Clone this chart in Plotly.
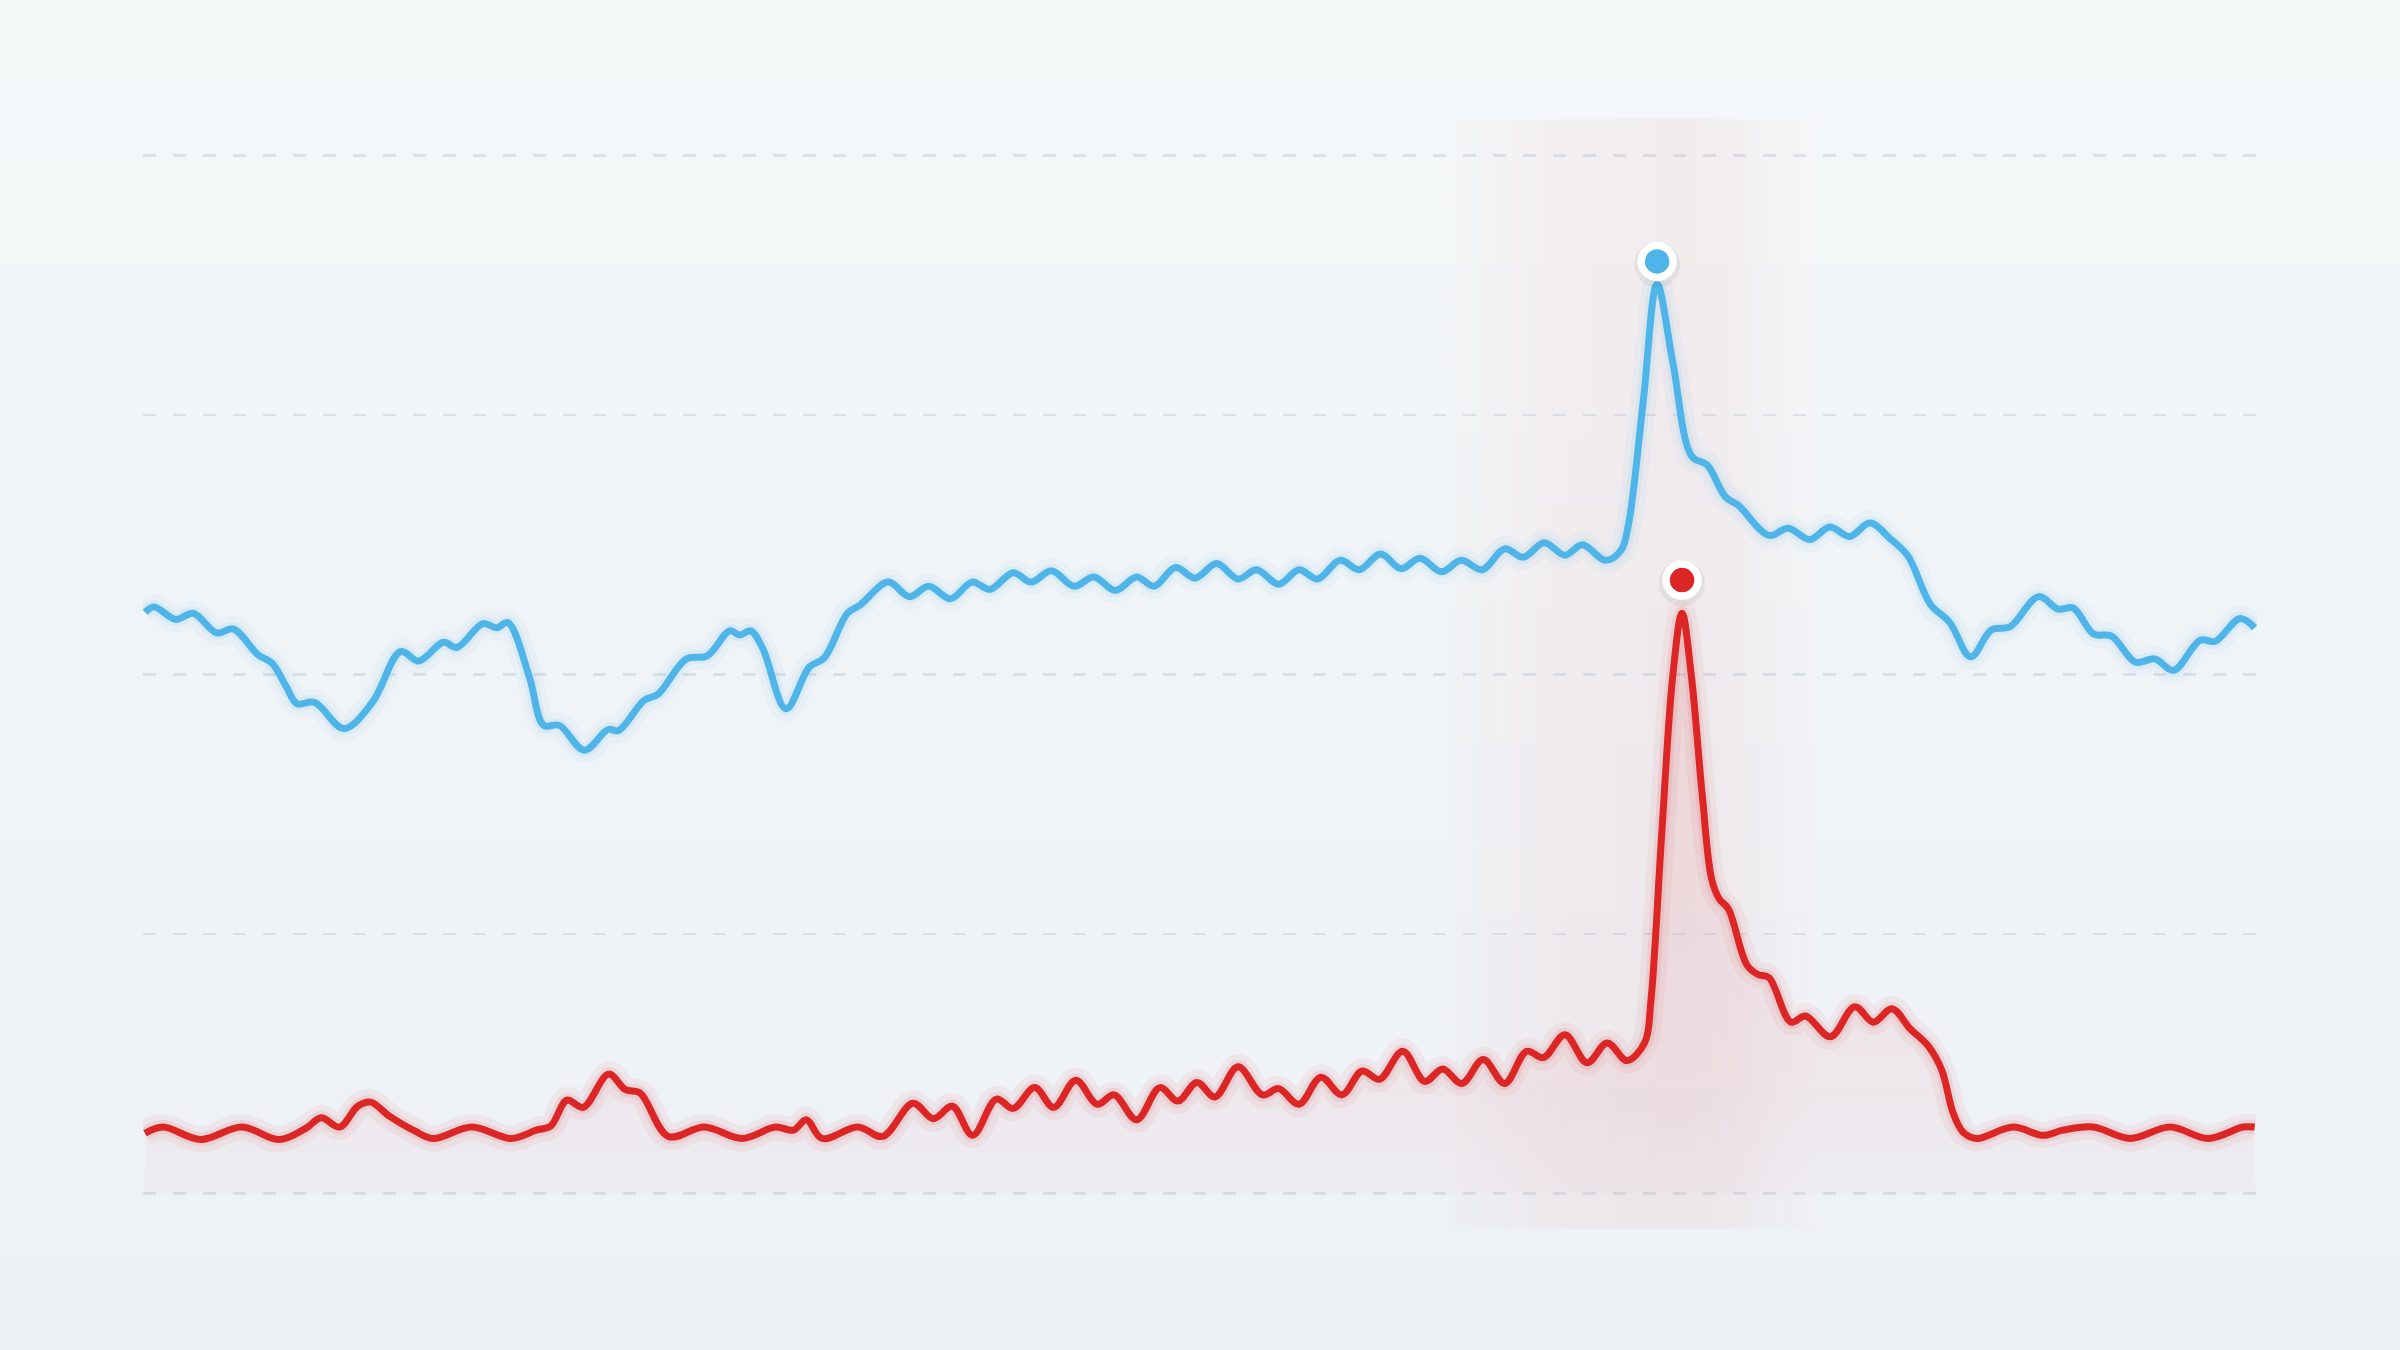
import math
import plotly.graph_objects as go

# ---------------- data ----------------
blue_day = [0, 1.6, 5.3, 8.3, 12.4, 15.2, 19.5, 21.9, 24.4, 26.2, 29.3, 34.3, 39.2, 44.1, 47.2,
            51.5, 53.8, 58.3, 60.7, 62.6, 66.3, 68.8, 71.5, 75.8, 79.9, 81.7, 86.1, 88.5, 93.4,
            97.0, 100.9, 102.6, 104.5, 106.6, 110.6, 114.6, 117.2, 121.2, 123.4, 128.2, 131.9,
            135.2, 139.0, 142.7, 145.8, 149.8, 152.9, 156.4, 160.3, 163.7, 167.4, 171.1, 174.1,
            177.8, 181.2, 184.9, 188.6, 191.8, 195.6, 199.1, 202.3, 206.2, 209.5, 213.2, 216.7,
            220.0, 223.7, 227.1, 230.7, 234.6, 237.8, 241.4, 245.0, 248.0, 252.0, 254.7, 256.0,
            258.5, 260.9, 263.6, 266.9, 269.5, 272.7, 274.9, 280.2, 283.5, 287.2, 290.7, 294.1,
            297.6, 301.1, 304.2, 308.0, 311.4, 315.0, 318.6, 321.8, 326.7, 330.1, 332.7, 336.2,
            339.3, 343.4, 346.8, 350.0, 354.6, 357.2, 361.5, 364]
blue_val = [56.0, 56.5, 55.3, 55.9, 54.0, 54.4, 51.9, 51.1, 48.8, 47.2, 47.3, 44.8, 47.3, 52.2, 51.3,
            53.1, 52.6, 54.9, 54.5, 55.0, 49.8, 45.1, 45.1, 42.7, 44.7, 44.6, 47.5, 48.1, 51.5,
            51.8, 54.2, 53.8, 54.2, 52.5, 46.7, 50.7, 51.6, 55.9, 56.7, 58.9, 57.5,
            58.5, 57.3, 58.9, 58.2, 59.8, 58.9, 60.0, 58.5, 59.4, 58.1, 59.4, 58.5,
            60.3, 59.3, 60.7, 59.2, 60.1, 58.7, 60.1, 59.2, 61.0, 60.1, 61.6, 60.2,
            61.2, 59.9, 61.0, 60.1, 62.1, 61.3, 62.7, 61.5, 62.5, 61.0, 62.0, 64.6,
            76.3, 87.6, 80.1, 71.0, 70.2, 67.1, 66.3, 63.4, 64.1, 63.0, 64.2, 63.3,
            64.6, 63.1, 61.4, 56.8, 55.0, 51.7, 54.3, 54.6, 57.5, 56.3, 56.4, 53.9,
            53.7, 51.2, 51.5, 50.4, 53.3, 53.2, 55.4, 54.5]

red_day = [0, 3.1, 9.6, 16.7, 23.2, 27.8, 30.4, 33.6, 36.7, 38.9, 42.3, 46.6, 49.7, 56.4, 63.2,
           67.5, 70.0, 72.8, 75.6, 80.0, 82.9, 85.4, 90.3, 96.5, 103.0, 108.8, 111.9, 114.1,
           116.8, 123.0, 127.3, 132.5, 136.0, 139.3, 142.8, 146.9, 149.8, 153.5, 156.8, 160.6,
           164.3, 167.2, 171.1, 175.1, 178.2, 181.5, 184.6, 188.6, 192.8, 195.6, 199.1, 202.9,
           206.5, 210.0, 213.0, 217.0, 220.8, 223.9, 227.2, 230.9, 234.6, 238.4, 241.3, 245.0,
           248.8, 252.3, 255.7, 258.8, 259.8, 261.7, 263.6, 265.2, 266.8, 268.7, 270.3, 271.6,
           273.2, 276.4, 278.3, 280.2, 284.0, 286.5, 290.8, 295.0, 298.2, 301.4, 304.5, 307.7,
           310.0, 312.0, 313.7, 316.0, 322.3, 327.5, 330.9, 336.1, 342.5, 349.4, 356.0, 362.0, 364]
red_val = [5.8, 6.4, 5.2, 6.4, 5.2, 6.3, 7.3, 6.4, 8.4, 8.8, 7.4, 6.0, 5.3, 6.4, 5.3,
           6.1, 6.5, 9.0, 8.3, 11.5, 10.0, 9.7, 5.5, 6.4, 5.3, 6.4, 6.1, 7.1,
           5.3, 6.4, 5.5, 8.7, 7.2, 8.4, 5.6, 9.1, 8.2, 10.2, 8.3, 10.9,
           8.6, 9.5, 7.1, 10.2, 8.9, 10.7, 9.3, 12.2, 9.5, 10.1, 8.6, 11.2,
           9.5, 11.8, 11.0, 13.7, 10.8, 12.0, 10.6, 12.9, 10.6, 13.7, 13.1, 15.3,
           12.6, 14.5, 12.8, 14.6, 18.4, 34.7, 49.9, 55.9, 49.9, 38.3, 30.3, 28.4,
           27.4, 22.0, 21.1, 20.8, 16.5, 17.1, 15.1, 18.0, 16.5, 17.8, 15.9, 14.2,
           11.9, 7.7, 5.9, 5.3, 6.4, 5.6, 6.1, 6.4, 5.3, 6.4, 5.3, 6.4, 6.4]

grid_vals = [0, 25, 50, 75, 100]
highlight_days = [226, 292]

# ---------------- style ----------------
BLUE = "#4FB4E8"
RED = "#DC2626"
MARKER_LIFT = {"blue": 2.2, "red": 3.2}


def rgba(hex_color, a):
    h = hex_color.lstrip("#")
    r, g, b = int(h[0:2], 16), int(h[2:4], 16), int(h[4:6], 16)
    return f"rgba({r},{g},{b},{a})"


fig = go.Figure()

# glow under lines
for days, vals, col in [(blue_day, blue_val, BLUE), (red_day, red_val, RED)]:
    fig.add_trace(go.Scatter(x=days, y=vals, mode="lines", hoverinfo="skip", showlegend=False,
                             line=dict(color=rgba(col, 0.05), width=26, shape="spline", smoothing=1.0)))
    fig.add_trace(go.Scatter(x=days, y=vals, mode="lines", hoverinfo="skip", showlegend=False,
                             line=dict(color=rgba(col, 0.09), width=14, shape="spline", smoothing=1.0)))

# red area fill
fig.add_trace(go.Scatter(x=red_day, y=red_val, mode="lines", hoverinfo="skip", showlegend=False,
                         line=dict(color="rgba(0,0,0,0)", width=0, shape="spline", smoothing=1.0),
                         fill="tozeroy",
                         fillgradient=dict(type="vertical", start=0, stop=40,
                                           colorscale=[[0, rgba(RED, 0.02)], [0.3, rgba(RED, 0.055)],
                                                       [1, rgba(RED, 0.09)]])))

# main lines
fig.add_trace(go.Scatter(x=blue_day, y=blue_val, mode="lines", name="blue", hoverinfo="skip",
                         line=dict(color=BLUE, width=7, shape="spline", smoothing=1.0)))
fig.add_trace(go.Scatter(x=red_day, y=red_val, mode="lines", name="red", hoverinfo="skip",
                         line=dict(color=RED, width=7, shape="spline", smoothing=1.0)))

# peak markers
for key, days, vals, col in [("blue", blue_day, blue_val, BLUE), ("red", red_day, red_val, RED)]:
    i = max(range(len(vals)), key=lambda k: vals[k])
    px, py = days[i], vals[i] + MARKER_LIFT[key]
    fig.add_trace(go.Scatter(x=[px], y=[py - 0.3], mode="markers", hoverinfo="skip", showlegend=False,
                             marker=dict(size=46, color="rgba(40,50,70,0.07)", line=dict(width=0))))
    fig.add_trace(go.Scatter(x=[px], y=[py], mode="markers", hoverinfo="skip", showlegend=False,
                             marker=dict(size=32, color=col, line=dict(color="white", width=7.5))))

shapes = []
# background vertical gradient
top = (245, 248, 249)
bot = (237, 240, 245)
n = 40
for k in range(n):
    t = k / (n - 1)
    c = tuple(round(top[j] + (bot[j] - top[j]) * t) for j in range(3))
    y1 = 1.11 - (1.22 * k / n)
    y0 = 1.11 - (1.22 * (k + 1) / n)
    shapes.append(dict(type="rect", xref="paper", yref="paper", x0=-0.08, x1=1.08, y0=y0, y1=y1,
                       fillcolor=f"rgb{c}", line=dict(width=0), layer="below"))

# highlight band (soft horizontal gradient)
a, b = highlight_days
m = 70
for k in range(m):
    t = (k + 0.5) / m
    if t < 0.6:
        w = 0.2 + 0.8 * math.sin(0.5 * math.pi * t / 0.6)
    else:
        w = 0.5 * (1 + math.cos(math.pi * (t - 0.6) / 0.4))
    shapes.append(dict(type="rect", xref="x", yref="y",
                       x0=a + (b - a) * k / m, x1=a + (b - a) * (k + 1) / m,
                       y0=-3.4, y1=103.5, fillcolor=rgba(RED, round(0.05 * w, 4)),
                       line=dict(width=0), layer="below"))

fig.update_layout(
    width=2400, height=1350,
    margin=dict(l=143, r=143, t=114, b=115),
    paper_bgcolor="#f1f4f7",
    plot_bgcolor="rgba(0,0,0,0)",
    showlegend=False,
    hovermode=False,
    shapes=shapes,
    xaxis=dict(range=[-0.345, 364.4], visible=False, showgrid=False, zeroline=False, fixedrange=True),
    yaxis=dict(range=[-4, 104], tickvals=grid_vals, showticklabels=False, ticks="",
               showgrid=True, gridcolor="rgba(190,198,210,0.45)", gridwidth=2.5, griddash="13px,17px",
               zeroline=False, showline=False, fixedrange=True),
)

fig.write_html("out.html", config={"displayModeBar": False, "staticPlot": True},
               post_script="document.body.style.margin='0';document.body.style.overflow='hidden';")
